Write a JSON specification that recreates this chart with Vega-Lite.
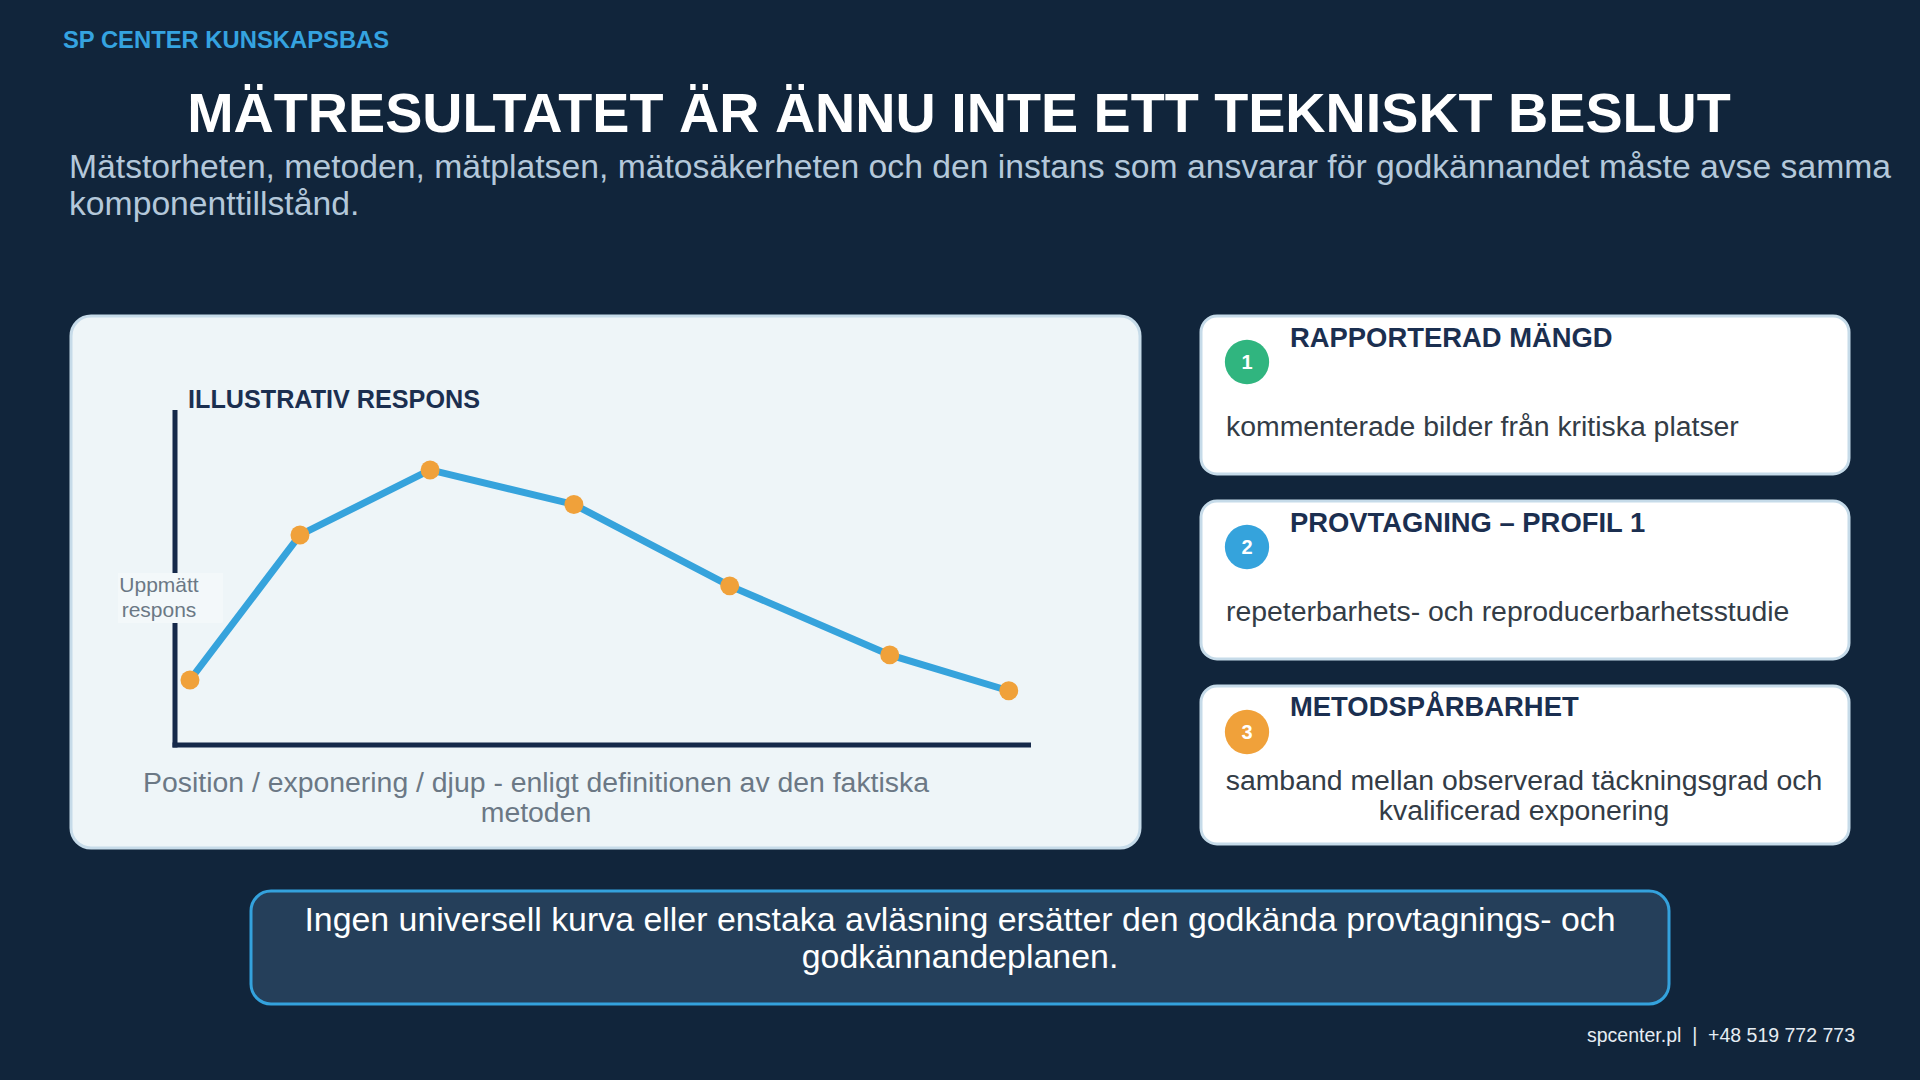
{
  "$schema": "https://vega.github.io/schema/vega-lite/v6.json",
  "width": 1920,
  "height": 1080,
  "autosize": {"type": "fit", "contains": "padding"},
  "padding": 0,
  "background": "#11253b",
  "config": {"view": {"stroke": null}, "font": "Liberation Sans"},
  "data": {"values": [{}]},
  "layer": [
    {"mark": {"type": "rect", "x": 71, "y": 316, "x2": 1140, "y2": 848, "fill": "#eef5f8", "stroke": "#c6dbe9", "strokeWidth": 3, "cornerRadius": 20}, "encoding": {}},
    {"mark": {"type": "rect", "x": 1201, "y": 316, "x2": 1849, "y2": 474, "fill": "#ffffff", "stroke": "#c6dbe9", "strokeWidth": 3, "cornerRadius": 16}, "encoding": {}},
    {"mark": {"type": "rect", "x": 1201, "y": 501, "x2": 1849, "y2": 659, "fill": "#ffffff", "stroke": "#c6dbe9", "strokeWidth": 3, "cornerRadius": 16}, "encoding": {}},
    {"mark": {"type": "rect", "x": 1201, "y": 686, "x2": 1849, "y2": 844, "fill": "#ffffff", "stroke": "#c6dbe9", "strokeWidth": 3, "cornerRadius": 16}, "encoding": {}},
    {"mark": {"type": "rect", "x": 251, "y": 891, "x2": 1669, "y2": 1004, "fill": "#253f5a", "stroke": "#34a2dd", "strokeWidth": 3, "cornerRadius": 20}, "encoding": {}},
    {"mark": {"type": "text", "x": 63, "y": 48, "align": "left", "baseline": "alphabetic", "text": "SP CENTER KUNSKAPSBAS", "fontSize": 23.8, "fontWeight": "bold", "fill": "#35a3e0"}, "encoding": {}},
    {"mark": {"type": "text", "x": 959, "y": 132, "align": "center", "baseline": "alphabetic", "text": "MÄTRESULTATET ÄR ÄNNU INTE ETT TEKNISKT BESLUT", "fontSize": 55.7, "fontWeight": "bold", "fill": "#ffffff"}, "encoding": {}},
    {"mark": {"type": "text", "x": 69, "y": 178, "align": "left", "baseline": "alphabetic", "lineHeight": 37, "text": ["Mätstorheten, metoden, mätplatsen, mätosäkerheten och den instans som ansvarar för godkännandet måste avse samma", "komponenttillstånd."], "fontSize": 33.7, "fill": "#b4c8da"}, "encoding": {}},
    {"mark": {"type": "text", "x": 188, "y": 408, "align": "left", "baseline": "alphabetic", "text": "ILLUSTRATIV RESPONS", "fontSize": 25.2, "fontWeight": "bold", "fill": "#1b2f50"}, "encoding": {}},
    {"mark": {"type": "text", "x": 536, "y": 792, "align": "center", "baseline": "alphabetic", "lineHeight": 30, "text": ["Position / exponering / djup - enligt definitionen av den faktiska", "metoden"], "fontSize": 28.4, "fill": "#6b7885"}, "encoding": {}},
    {"mark": {"type": "rect", "x": 172.5, "x2": 177.5, "y": 410, "y2": 747.5, "fill": "#15294a"}, "encoding": {}},
    {"mark": {"type": "rect", "x": 172.5, "x2": 1031, "y": 742.5, "y2": 747.5, "fill": "#15294a"}, "encoding": {}},
    {"mark": {"type": "rect", "x": 118, "x2": 223, "y": 573, "y2": 623, "fill": "#f3f8fa"}, "encoding": {}},
    {"mark": {"type": "text", "x": 159, "y": 592, "align": "center", "baseline": "alphabetic", "lineHeight": 25, "text": ["Uppmätt", "respons"], "fontSize": 21, "fill": "#6b7885"}, "encoding": {}},
    {
      "data": {"values": [
        {"position": 1.75, "respons": 19.4},
        {"position": 14.6, "respons": 62.7},
        {"position": 29.8, "respons": 82.1},
        {"position": 46.6, "respons": 71.8},
        {"position": 64.8, "respons": 47.5},
        {"position": 83.5, "respons": 26.9},
        {"position": 97.4, "respons": 16.2}
      ]},
      "encoding": {
        "x": {"field": "position", "type": "quantitative", "axis": null, "scale": {"domain": [-20.444, 203.855], "nice": false, "zero": false}},
        "y": {"field": "respons", "type": "quantitative", "axis": null, "scale": {"domain": [-100, 222.388], "nice": false, "zero": false}}
      },
      "layer": [
        {"mark": {"type": "line", "stroke": "#36a3dc", "strokeWidth": 7}, "encoding": {}},
        {"mark": {"type": "point", "filled": true, "fill": "#f0a13a", "opacity": 1, "size": 360, "strokeWidth": 0}, "encoding": {}}
      ]
    },
    {"mark": {"type": "point", "x": 1247, "y": 362, "shape": "circle", "filled": true, "fill": "#30b57f", "opacity": 1, "size": 1963, "strokeWidth": 0}, "encoding": {}},
    {"mark": {"type": "point", "x": 1247, "y": 547, "shape": "circle", "filled": true, "fill": "#35a3dc", "opacity": 1, "size": 1963, "strokeWidth": 0}, "encoding": {}},
    {"mark": {"type": "point", "x": 1247, "y": 732, "shape": "circle", "filled": true, "fill": "#f0a13a", "opacity": 1, "size": 1963, "strokeWidth": 0}, "encoding": {}},
    {"mark": {"type": "text", "x": 1247, "y": 369, "align": "center", "baseline": "alphabetic", "text": "1", "fontSize": 20, "fontWeight": "bold", "fill": "#ffffff"}, "encoding": {}},
    {"mark": {"type": "text", "x": 1247, "y": 554, "align": "center", "baseline": "alphabetic", "text": "2", "fontSize": 20, "fontWeight": "bold", "fill": "#ffffff"}, "encoding": {}},
    {"mark": {"type": "text", "x": 1247, "y": 739, "align": "center", "baseline": "alphabetic", "text": "3", "fontSize": 20, "fontWeight": "bold", "fill": "#ffffff"}, "encoding": {}},
    {"mark": {"type": "text", "x": 1290, "y": 347, "align": "left", "baseline": "alphabetic", "text": "RAPPORTERAD MÄNGD", "fontSize": 27.4, "fontWeight": "bold", "fill": "#1b2f50"}, "encoding": {}},
    {"mark": {"type": "text", "x": 1290, "y": 532, "align": "left", "baseline": "alphabetic", "text": "PROVTAGNING – PROFIL 1", "fontSize": 27.4, "fontWeight": "bold", "fill": "#1b2f50"}, "encoding": {}},
    {"mark": {"type": "text", "x": 1290, "y": 716, "align": "left", "baseline": "alphabetic", "text": "METODSPÅRBARHET", "fontSize": 27.4, "fontWeight": "bold", "fill": "#1b2f50"}, "encoding": {}},
    {"mark": {"type": "text", "x": 1226, "y": 436, "align": "left", "baseline": "alphabetic", "text": "kommenterade bilder från kritiska platser", "fontSize": 28.4, "fill": "#333c46"}, "encoding": {}},
    {"mark": {"type": "text", "x": 1226, "y": 621, "align": "left", "baseline": "alphabetic", "text": "repeterbarhets- och reproducerbarhetsstudie", "fontSize": 28.4, "fill": "#333c46"}, "encoding": {}},
    {"mark": {"type": "text", "x": 1524, "y": 790, "align": "center", "baseline": "alphabetic", "lineHeight": 30, "text": ["samband mellan observerad täckningsgrad och", "kvalificerad exponering"], "fontSize": 28.4, "fill": "#333c46"}, "encoding": {}},
    {"mark": {"type": "text", "x": 960, "y": 931, "align": "center", "baseline": "alphabetic", "lineHeight": 37, "text": ["Ingen universell kurva eller enstaka avläsning ersätter den godkända provtagnings- och", "godkännandeplanen."], "fontSize": 33.9, "fill": "#ffffff"}, "encoding": {}},
    {"mark": {"type": "text", "x": 1855, "y": 1042, "align": "right", "baseline": "alphabetic", "text": "spcenter.pl\u00a0\u00a0|\u00a0\u00a0+48 519 772 773", "fontSize": 19.5, "fill": "#e6edf3"}, "encoding": {}}
  ]
}
